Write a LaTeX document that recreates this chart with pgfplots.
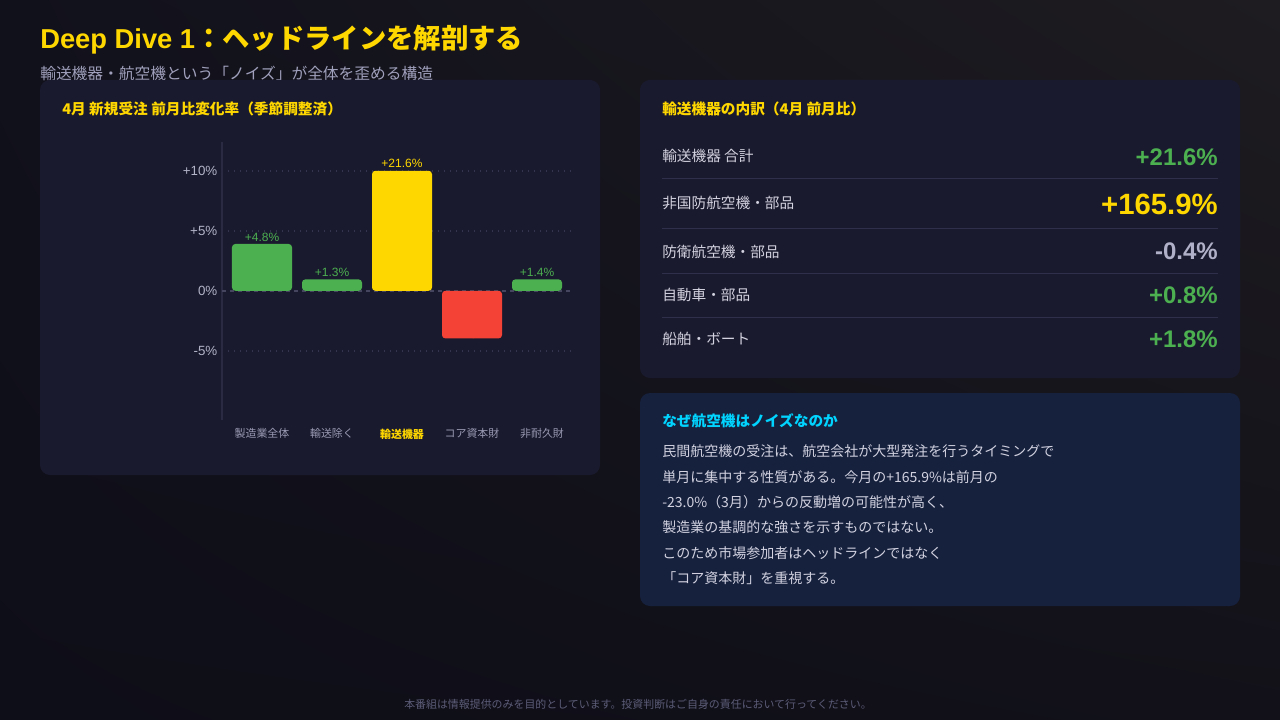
\documentclass[border=0pt]{standalone}
\usepackage{fontspec}
\setmainfont{Noto Sans CJK JP}
\newfontfamily\lat{Liberation Sans}
\usepackage{pgfplots}
\pgfplotsset{compat=1.18}
\usetikzlibrary{shadings}
\definecolor{bgTL}{HTML}{11111C}
\definecolor{bgTR}{HTML}{1E1C20}
\definecolor{bgBL}{HTML}{0E0E18}
\definecolor{bgBR}{HTML}{121119}
\definecolor{cardA}{HTML}{1A1A2E}
\definecolor{cardB}{HTML}{16213E}
\definecolor{yel}{HTML}{FFD700}
\definecolor{grn}{HTML}{4CAF50}
\definecolor{red}{HTML}{F44336}
\definecolor{cyn}{HTML}{00D4FF}
\definecolor{txt}{HTML}{D2D2E0}
\definecolor{sub}{HTML}{A0A0BC}
\definecolor{tick}{HTML}{B4B4C8}
\definecolor{xtick}{HTML}{9A9AB4}
\definecolor{sepc}{HTML}{2F2F4B}
\definecolor{gridc}{HTML}{34344E}
\definecolor{zeroc}{HTML}{45455F}
\definecolor{axisc}{HTML}{2A2A42}
\definecolor{neg}{HTML}{B0B0C8}
\definecolor{foot}{HTML}{5C5C78}
\newcommand{\fs}[1]{\fontsize{#1}{#1}\selectfont}
\begin{document}
\begin{tikzpicture}
\begin{scope}[x=0.75pt,y=-0.75pt]
\shade[upper left=bgTL, upper right=bgTR, lower left=bgBL, lower right=bgBR] (0,0) rectangle (1280,720);
\useasboundingbox (0,0) rectangle (1280,720);
% titles
\node[anchor=base west, inner sep=0pt, text=yel, font=\fs{20.5}\bfseries] at (40,49) {{\lat Deep Dive 1}：ヘッドラインを解剖する};
\node[anchor=base west, inner sep=0pt, text=sub, font=\fs{11.8}] at (40,80) {輸送機器・航空機という「ノイズ」が全体を歪める構造};
% cards
\fill[cardA, rounded corners=7.5pt] (40,80) rectangle (600,475);
\fill[cardA, rounded corners=7.5pt] (640,80) rectangle (1240,378);
\fill[cardB, rounded corners=7.5pt] (640,393) rectangle (1240,606);
% left card title
\node[anchor=west, inner sep=0pt, text=yel, font=\fs{11}\bfseries] at (62,109) {4月 新規受注 前月比変化率（季節調整済）};
% right card 1
\node[anchor=west, inner sep=0pt, text=yel, font=\fs{11}\bfseries] at (662,108.5) {輸送機器の内訳（4月 前月比）};
\foreach \yy in {179,229,273,317} {\draw[sepc, line width=0.75pt] (662,\yy) -- (1218,\yy);}
\node[anchor=west, inner sep=0pt, text=txt, font=\fs{11}] at (662,156) {輸送機器 合計};
\node[anchor=west, inner sep=0pt, text=txt, font=\fs{11}] at (662,203.5) {非国防航空機・部品};
\node[anchor=west, inner sep=0pt, text=txt, font=\fs{11}] at (662,251.5) {防衛航空機・部品};
\node[anchor=west, inner sep=0pt, text=txt, font=\fs{11}] at (662,295) {自動車・部品};
\node[anchor=west, inner sep=0pt, text=txt, font=\fs{11}] at (662,339) {船舶・ボート};
\node[anchor=east, inner sep=0pt, text=grn, font=\fs{18}\lat\bfseries] at (1218,157) {+21.6\%};
\node[anchor=east, inner sep=0pt, text=yel, font=\fs{22}\lat\bfseries] at (1218,204) {+165.9\%};
\node[anchor=east, inner sep=0pt, text=neg, font=\fs{18}\lat\bfseries] at (1218,251.5) {-0.4\%};
\node[anchor=east, inner sep=0pt, text=grn, font=\fs{18}\lat\bfseries] at (1218,295.5) {+0.8\%};
\node[anchor=east, inner sep=0pt, text=grn, font=\fs{18}\lat\bfseries] at (1218,339.5) {+1.8\%};
% right card 2
\node[anchor=west, inner sep=0pt, text=cyn, font=\fs{11}\bfseries] at (662,420.5) {なぜ航空機はノイズなのか};
\node[anchor=west, inner sep=0pt, text=txt, font=\fs{10.5}] at (662,451.5) {民間航空機の受注は、航空会社が大型発注を行うタイミングで};
\node[anchor=west, inner sep=0pt, text=txt, font=\fs{10.5}] at (662,477) {単月に集中する性質がある。今月の+165.9\%は前月の};
\node[anchor=west, inner sep=0pt, text=txt, font=\fs{10.5}] at (662,502.5) {-23.0\%（3月）からの反動増の可能性が高く、};
\node[anchor=west, inner sep=0pt, text=txt, font=\fs{10.5}] at (662,527.5) {製造業の基調的な強さを示すものではない。};
\node[anchor=west, inner sep=0pt, text=txt, font=\fs{10.5}] at (662,553) {このため市場参加者はヘッドラインではなく};
\node[anchor=west, inner sep=0pt, text=txt, font=\fs{10.5}] at (662,578) {「コア資本財」を重視する。};
% footer
\node[inner sep=0pt, text=foot, font=\fs{8.2}] at (638,704) {本番組は情報提供のみを目的としています。投資判断はご自身の責任において行ってください。};
\end{scope}
\begin{axis}[
  at={(166.5pt,-315pt)}, anchor=south west,
  width=262.5pt, height=208.7pt, scale only axis,
  xmin=-0.5714, xmax=4.4286, ymin=-10.77, ymax=12.42,
  ybar, bar width=45pt, bar shift=0pt,
  separate axis lines,
  axis x line*=bottom, axis y line*=left,
  x axis line style={draw=none},
  y axis line style={draw=axisc, line width=1pt},
  major tick length=0pt,
  xtick={0,1,2,3,4},
  xticklabels={製造業全体, 輸送除く, {\color{yel}\bfseries 輸送機器}, コア資本財, 非耐久財},
  xticklabel style={font=\fs{8.2}, text=xtick, yshift=-3pt},
  ytick={-5,5,10},
  yticklabels={-5\%, +5\%, +10\%},
  extra y ticks={0}, extra y tick labels={0\%},
  yticklabel style={font=\fs{10}\lat, text=tick},
  ymajorgrids,
  major grid style={gridc, line width=1.1pt, dash pattern=on 1.1pt off 3.4pt},
  extra y tick style={major grid style={zeroc, line width=1.1pt, dash pattern=on 3pt off 3pt}},
  nodes near coords, point meta=explicit symbolic,
  every node near coord/.append style={font=\fs{9}\lat, inner sep=1.8pt},
]
\addplot[fill=grn, draw=none, rounded corners=2.5pt, every node near coord/.append style={text=grn}]
  coordinates {(0,3.9) [+4.8\%] (1,0.95) [+1.3\%]};
\addplot[fill=yel, draw=none, rounded corners=2.5pt, every node near coord/.append style={text=yel}]
  coordinates {(2,10) [+21.6\%]};
\addplot[fill=red, draw=none, rounded corners=2.5pt, every node near coord/.append style={text=red, yshift=-2.5pt}]
  coordinates {(3,-3.97) [-1.0\%]};
\addplot[fill=grn, draw=none, rounded corners=2.5pt, bar width=37.5pt, bar shift=-3.75pt, every node near coord/.append style={text=grn}]
  coordinates {(4,0.95) [+1.4\%]};
\end{axis}
\end{tikzpicture}
\end{document}
